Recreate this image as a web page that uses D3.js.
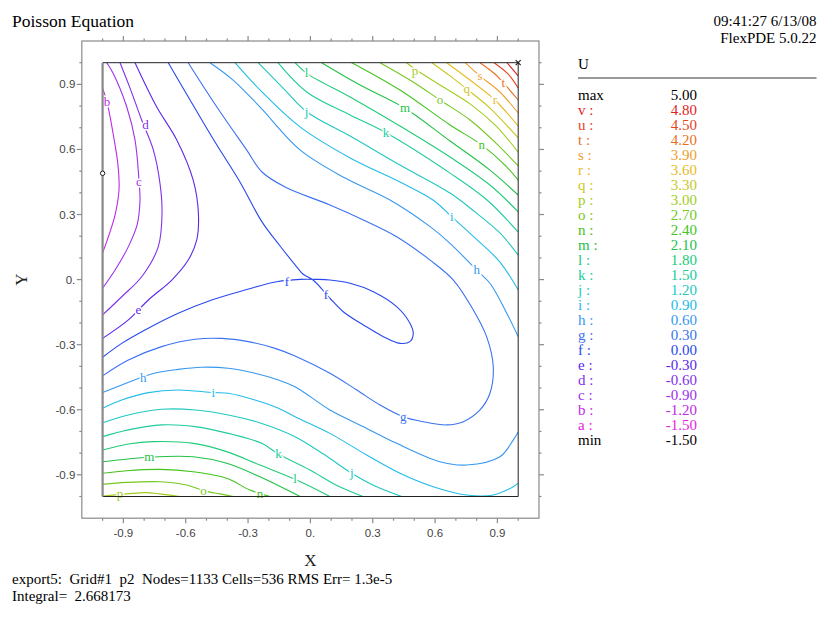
<!DOCTYPE html>
<html>
<head>
<meta charset="utf-8">
<script src="https://cdn.jsdelivr.net/npm/d3@7"></script>
<style>
  body { margin: 0; background: #fff; }
  svg text { white-space: pre; }
</style>
</head>
<body>
<svg id="chart" width="819" height="617"></svg>
<script>
// ---- contour levels of U ----
const levelNames  = ["a","b","c","d","e","f","g","h","i","j","k","l","m","n","o","p","q","r","s","t","u","v"];
const levelValues = [-1.5,-1.2,-0.9,-0.6,-0.3,0.0,0.3,0.6,0.9,1.2,1.5,1.8,2.1,2.4,2.7,3.0,3.3,3.6,3.9,4.2,4.5,4.8];
const uMax = 5.00;
const uMin = -1.50;

// axis ticks
const xTickLabels = [-0.9,-0.6,-0.3,0,0.3,0.6,0.9];
const yTickLabels = [-0.9,-0.6,-0.3,0,0.3,0.6,0.9];

// ---- contour traces, (X, Y) pairs; each level may consist of several pieces ----
const contourB = [[[-1.0,0.883],[-0.979,0.819],[-0.950,0.676],[-0.926,0.528],[-0.921,0.413],[-0.940,0.298],[-0.969,0.206],[-1.0,0.123]]];
const contourC = [[[-0.980,1.0],[-0.950,0.953],[-0.884,0.797],[-0.844,0.644],[-0.825,0.459],[-0.820,0.367],[-0.834,0.252],[-0.876,0.152],[-0.940,0.044],[-1.0,-0.040]]];
const contourD = [[[-0.916,1.0],[-0.868,0.883],[-0.812,0.736],[-0.756,0.598],[-0.724,0.445],[-0.714,0.307],[-0.732,0.152],[-0.812,0.013],[-0.908,-0.079],[-1.0,-0.163]]];
const contourE = [[[-0.844,1.0],[-0.740,0.797],[-0.643,0.644],[-0.564,0.459],[-0.539,0.307],[-0.547,0.183],[-0.588,0.090],[-0.667,-0.002],[-0.780,-0.094],[-0.876,-0.186],[-1.0,-0.271]]];
const contourF = [[[-0.684,1.0],[-0.579,0.828],[-0.459,0.634],[-0.339,0.450],[-0.233,0.266],[-0.146,0.155],[-0.066,0.059],[-0.036,0.026],[0.013,-0.002],[0.094,-0.086],[0.158,-0.148],[0.255,-0.209],[0.351,-0.263],[0.431,-0.294],[0.479,-0.286],[0.495,-0.248],[0.479,-0.201],[0.415,-0.125],[0.303,-0.056],[0.191,-0.017],[0.094,-0.002],[0.030,0.001],[-0.050,0.001],[-0.162,-0.010],[-0.315,-0.048],[-0.475,-0.094],[-0.636,-0.155],[-0.796,-0.232],[-0.908,-0.294],[-1.0,-0.358]]];
const contourG = [[[-1.0,-0.444],[-0.876,-0.371],[-0.716,-0.309],[-0.555,-0.275],[-0.427,-0.271],[-0.299,-0.286],[-0.170,-0.317],[-0.074,-0.352],[0.094,-0.432],[0.223,-0.509],[0.335,-0.578],[0.447,-0.632],[0.543,-0.655],[0.656,-0.670],[0.736,-0.655],[0.816,-0.601],[0.864,-0.524],[0.880,-0.402],[0.848,-0.263],[0.784,-0.140],[0.688,-0.002],[0.576,0.090],[0.415,0.198],[0.255,0.275],[0.094,0.344],[-0.122,0.427],[-0.233,0.496],[-0.307,0.598],[-0.451,0.797],[-0.588,1.0]]];
const contourH = [
  [[-1.0,-0.521],[-0.908,-0.486],[-0.764,-0.435],[-0.636,-0.414],[-0.523,-0.404],[-0.395,-0.409],[-0.267,-0.432],[-0.154,-0.463],[-0.074,-0.494],[0.094,-0.601],[0.255,-0.678],[0.415,-0.755],[0.624,-0.840],[0.752,-0.855],[0.912,-0.817],[0.976,-0.740],[1.0,-0.703]],
  [[-0.483,1.0],[-0.372,0.920],[-0.243,0.796],[-0.050,0.598],[0.167,0.468],[0.383,0.367],[0.576,0.244],[0.672,0.167],[0.800,0.044],[0.864,-0.017],[0.945,-0.155],[1.0,-0.263]]
];
const contourI = [
  [[-1.0,-0.593],[-0.908,-0.555],[-0.780,-0.521],[-0.636,-0.509],[-0.467,-0.521],[-0.395,-0.524],[-0.267,-0.555],[-0.154,-0.593],[-0.074,-0.632],[0.094,-0.709],[0.271,-0.809],[0.431,-0.893],[0.591,-0.955],[0.752,-0.993],[0.880,-0.993],[0.976,-0.955],[1.0,-0.938]],
  [[-0.363,1.0],[-0.233,0.865],[-0.050,0.704],[0.191,0.561],[0.431,0.450],[0.590,0.367],[0.681,0.289],[0.792,0.192],[0.912,0.081],[1.0,-0.048]]
];
const contourJ = [
  [[-1.0,-0.660],[-0.876,-0.624],[-0.716,-0.598],[-0.555,-0.601],[-0.395,-0.624],[-0.234,-0.663],[-0.074,-0.724],[0.070,-0.809],[0.199,-0.893],[0.311,-0.952],[0.439,-1.0]],
  [[-0.252,1.0],[-0.122,0.874],[-0.018,0.774],[0.191,0.662],[0.431,0.528],[0.672,0.399],[0.792,0.312],[0.912,0.215],[1.0,0.113]]
];
const contourK = [
  [[-1.0,-0.724],[-0.876,-0.693],[-0.716,-0.670],[-0.555,-0.678],[-0.395,-0.709],[-0.234,-0.755],[-0.154,-0.804],[-0.002,-0.878],[0.123,-0.947],[0.253,-1.0]],
  [[-0.156,1.0],[-0.018,0.865],[0.191,0.759],[0.364,0.677],[0.672,0.491],[0.850,0.367],[1.0,0.219]]
];
const contourL = [
  [[-1.0,-0.786],[-0.876,-0.758],[-0.756,-0.747],[-0.564,-0.755],[-0.403,-0.793],[-0.243,-0.855],[-0.074,-0.921],[0.094,-1.0]],
  [[-0.074,1.0],[-0.018,0.951],[0.191,0.842],[0.431,0.708],[0.672,0.565],[0.864,0.436],[1.0,0.312]]
];
const contourM = [
  [[-1.0,-0.840],[-0.775,-0.819],[-0.564,-0.817],[-0.403,-0.847],[-0.243,-0.909],[-0.050,-1.0]],
  [[0.054,1.0],[0.239,0.897],[0.455,0.790],[0.672,0.639],[0.864,0.505],[1.0,0.390]]
];
const contourN = [
  [[-1.0,-0.893],[-0.884,-0.881],[-0.724,-0.875],[-0.564,-0.886],[-0.403,-0.916],[-0.291,-0.970],[-0.194,-1.0]],
  [[0.199,1.0],[0.431,0.874],[0.672,0.713],[0.824,0.621],[0.936,0.528],[1.0,0.459]]
];
const contourO = [
  [[-1.0,-0.944],[-0.884,-0.935],[-0.724,-0.932],[-0.595,-0.947],[-0.515,-0.973],[-0.435,-0.988],[-0.371,-1.0]],
  [[0.335,1.0],[0.479,0.920],[0.624,0.828],[0.768,0.736],[0.888,0.634],[1.0,0.524]]
];
const contourP = [
  [[-1.0,-0.998],[-0.884,-0.988],[-0.788,-0.982],[-0.724,-0.988],[-0.628,-1.0]],
  [[0.463,1.0],[0.503,0.971],[0.624,0.897],[0.768,0.810],[0.888,0.713],[1.0,0.588]]
];
const contourQ = [[[0.585,1.0],[0.672,0.939],[0.752,0.879],[0.864,0.791],[1.0,0.653]]];
const contourR = [[[0.656,1.0],[0.768,0.920],[0.888,0.828],[1.0,0.708]]];
const contourS = [[[0.744,1.0],[0.816,0.939],[0.912,0.865],[1.0,0.768]]];
const contourT = [[[0.816,1.0],[0.888,0.948],[0.928,0.908],[1.0,0.828]]];
const contourU = [[[0.884,1.0],[0.951,0.948],[1.0,0.883]]];
const contourV = [[[0.946,1.0],[1.0,0.939]]];

// letter tags written along the contours: [level, X, Y]
const contourTags = [
  ["b",-0.979,0.819],["c",-0.825,0.451],["d",-0.793,0.713],["e",-0.828,-0.140],
  ["f",0.075,-0.071],["f",-0.113,-0.010],["g",0.447,-0.632],
  ["h",-0.804,-0.455],["h",0.800,0.044],["i",-0.467,-0.521],["i",0.681,0.289],
  ["j",-0.018,0.774],["j",0.199,-0.893],["k",0.364,0.677],["k",-0.154,-0.804],
  ["l",-0.018,0.951],["l",-0.074,-0.921],["m",0.455,0.790],["m",-0.775,-0.819],
  ["n",0.824,0.621],["n",-0.243,-0.988],["o",0.624,0.828],["o",-0.515,-0.973],
  ["p",0.503,0.962],["p",-0.916,-0.990],["q",0.752,0.879],["r",0.888,0.828],
  ["s",0.816,0.939],["t",0.928,0.908]
];

// ---- style ----
const levelColors = {
  a:"#e61ee0", b:"#c028e8", c:"#a030ec", d:"#8030ec", e:"#5a28ea", f:"#2848ee",
  g:"#3a72f0", h:"#3698f0", i:"#22bce8", j:"#20c8c0", k:"#20cc9c", l:"#20cc7a",
  m:"#22c248", n:"#44c41e", o:"#74c81e", p:"#a2cc1e", q:"#c8c81e", r:"#e8bc1e",
  s:"#eca02e", t:"#e8701e", u:"#e6441e", v:"#e41e1e"
};

const contours = { b:contourB, c:contourC, d:contourD, e:contourE, f:contourF, g:contourG,
  h:contourH, i:contourI, j:contourJ, k:contourK, l:contourL, m:contourM, n:contourN,
  o:contourO, p:contourP, q:contourQ, r:contourR, s:contourS, t:contourT, u:contourU, v:contourV };

const svg = d3.select("#chart");
const serif = "'Liberation Serif','Times New Roman',serif";
const sans = "'Liberation Sans',Arial,sans-serif";

const x = d3.scaleLinear().domain([-1, 1]).range([102.6, 518.2]);
const y = d3.scaleLinear().domain([-1, 1]).range([496.5, 62.7]);
const frame = 1.1;   // outer axis box extent

// ---- header / footer text ----
svg.append("text").attr("x", 12).attr("y", 27).attr("font-family", serif).attr("font-size", 17.5)
  .attr("fill", "#000").text("Poisson Equation");
svg.append("text").attr("x", 816.5).attr("y", 26).attr("text-anchor", "end").attr("font-family", serif)
  .attr("font-size", 15).attr("fill", "#000").text("09:41:27 6/13/08");
svg.append("text").attr("x", 816.5).attr("y", 42.5).attr("text-anchor", "end").attr("font-family", serif)
  .attr("font-size", 15).attr("fill", "#000").text("FlexPDE 5.0.22");
svg.append("text").attr("x", 12).attr("y", 583.5).attr("font-family", serif).attr("font-size", 15)
  .attr("fill", "#000").text("export5:  Grid#1  p2  Nodes=1133 Cells=536 RMS Err= 1.3e-5");
svg.append("text").attr("x", 12).attr("y", 600.5).attr("font-family", serif).attr("font-size", 15)
  .attr("fill", "#000").text("Integral=  2.668173");

// ---- outer axis box with ticks ----
const axisColor = "#8a8a8a";
const ax = svg.append("g").attr("stroke", axisColor).attr("stroke-width", 1.2).attr("fill", "none");
ax.append("rect")
  .attr("x", x(-frame)).attr("y", y(frame))
  .attr("width", x(frame) - x(-frame)).attr("height", y(-frame) - y(frame));

const tickVals = d3.range(-10, 11).map(i => i / 10);
const isMajor = v => xTickLabels.some(t => Math.abs(t - v) < 1e-9);
tickVals.forEach(v => {
  const len = isMajor(v) ? 5 : 2.5;
  // bottom & top
  ax.append("line").attr("x1", x(v)).attr("x2", x(v)).attr("y1", y(-frame)).attr("y2", y(-frame) + len);
  ax.append("line").attr("x1", x(v)).attr("x2", x(v)).attr("y1", y(frame)).attr("y2", y(frame) - len);
  // left & right
  ax.append("line").attr("y1", y(v)).attr("y2", y(v)).attr("x1", x(-frame)).attr("x2", x(-frame) - len);
  ax.append("line").attr("y1", y(v)).attr("y2", y(v)).attr("x1", x(frame)).attr("x2", x(frame) + len);
});

const fmt = v => (v === 0 ? "0." : v.toFixed(1));
svg.append("g").selectAll("text").data(xTickLabels).join("text")
  .attr("x", d => x(d)).attr("y", y(-frame) + 18.5).attr("text-anchor", "middle")
  .attr("font-family", sans).attr("font-size", 11.5).attr("fill", "#444").text(fmt);
svg.append("g").selectAll("text").data(yTickLabels).join("text")
  .attr("x", x(-frame) - 6.5).attr("y", d => y(d) + 4).attr("text-anchor", "end")
  .attr("font-family", sans).attr("font-size", 11.5).attr("fill", "#444").text(fmt);

svg.append("text").attr("x", x(0)).attr("y", 565.5).attr("text-anchor", "middle")
  .attr("font-family", serif).attr("font-size", 17).attr("fill", "#222").text("X");
svg.append("text").attr("transform", `translate(27,${y(0)}) rotate(-90)`).attr("text-anchor", "middle")
  .attr("font-family", serif).attr("font-size", 17).attr("fill", "#222").text("Y");

// ---- contour lines ----
svg.append("defs").append("clipPath").attr("id", "domainClip").append("rect")
  .attr("x", x(-1)).attr("y", y(1)).attr("width", x(1) - x(-1)).attr("height", y(-1) - y(1));

const line = d3.line().x(d => x(d[0])).y(d => y(d[1])).curve(d3.curveCatmullRom.alpha(0.5));
const gLines = svg.append("g").attr("clip-path", "url(#domainClip)").attr("fill", "none").attr("stroke-width", 1.1);
Object.entries(contours).forEach(([name, pieces]) => {
  pieces.forEach(piece => {
    gLines.append("path").attr("d", line(piece)).attr("stroke", levelColors[name]);
  });
});

// level tags on the lines, with a white halo to break the line
svg.append("g").selectAll("text").data(contourTags).join("text")
  .attr("x", d => x(d[1])).attr("y", d => y(d[2]) + 4)
  .attr("text-anchor", "middle").attr("font-family", serif).attr("font-size", 13)
  .attr("fill", d => levelColors[d[0]])
  .attr("stroke", "#fff").attr("stroke-width", 3).attr("paint-order", "stroke")
  .text(d => d[0]);

// ---- domain boundary ----
svg.append("path")
  .attr("d", `M${x(-1)},${y(1)}H${x(1)}V${y(-1)}H${x(-1)}`)
  .attr("fill", "none").attr("stroke", "#222").attr("stroke-width", 1);
svg.append("line").attr("x1", x(-1)).attr("x2", x(-1)).attr("y1", y(1)).attr("y2", y(-1))
  .attr("stroke", "#8a8a8a").attr("stroke-width", 2.2);

// extreme markers: minimum (circle) and maximum (cross)
const minPoint = [-1.0, 0.49];
const maxPoint = [1.0, 1.0];
svg.append("circle").attr("cx", x(minPoint[0])).attr("cy", y(minPoint[1])).attr("r", 2.2)
  .attr("fill", "#fff").attr("stroke", "#222").attr("stroke-width", 1);
svg.append("path")
  .attr("d", `M${x(maxPoint[0]) - 2.5},${y(maxPoint[1]) - 2.5}l5,5M${x(maxPoint[0]) + 2.5},${y(maxPoint[1]) - 2.5}l-5,5`)
  .attr("stroke", "#222").attr("stroke-width", 1.2);

// ---- legend ----
const lg = svg.append("g").attr("font-family", serif).attr("font-size", 15);
lg.append("text").attr("x", 578).attr("y", 68.5).attr("fill", "#000").text("U");
lg.append("line").attr("x1", 578).attr("x2", 816.5).attr("y1", 78).attr("y2", 78)
  .attr("stroke", "#777").attr("stroke-width", 1.5);

const rows = [{ tag: "max", val: uMax, color: "#000" }]
  .concat(levelNames.map((n, i) => ({ tag: n + " :", val: levelValues[i], color: levelColors[n] })).reverse())
  .concat([{ tag: "min", val: uMin, color: "#000" }]);
rows.forEach((r, i) => {
  const yy = 100 + i * 15;
  lg.append("text").attr("x", 578).attr("y", yy).attr("fill", r.color).text(r.tag);
  lg.append("text").attr("x", 697).attr("y", yy).attr("text-anchor", "end").attr("fill", r.color)
    .text(r.val.toFixed(2));
});
</script>
</body>
</html>
